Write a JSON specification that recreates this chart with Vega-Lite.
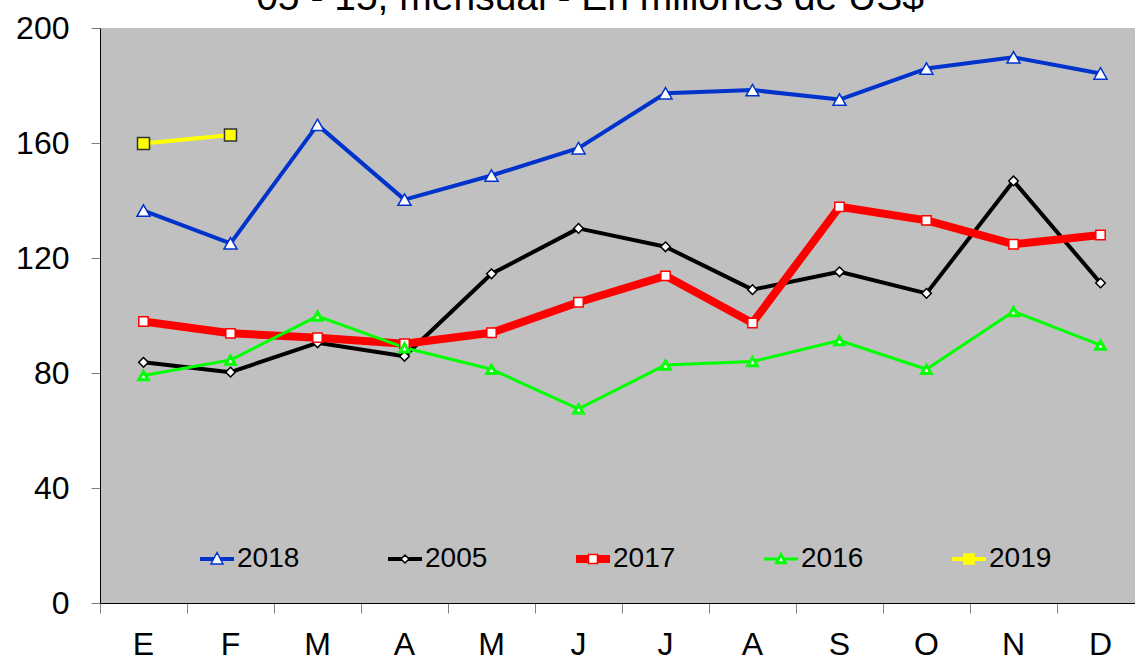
{
  "$schema": "https://vega.github.io/schema/vega-lite/v6.json",
  "width": 1044,
  "height": 575,
  "autosize": {"type": "none"},
  "padding": {"left": 100, "top": 28, "right": -9, "bottom": 56},
  "background": "white",
  "config": {
    "font": "Liberation Sans",
    "view": {"fill": "#C0C0C0", "stroke": null}
  },
  "title": {
    "text": "05 - 15, mensual - En millones de US$",
    "font": "Liberation Sans",
    "fontSize": 39,
    "fontWeight": "normal",
    "color": "#000000",
    "anchor": "middle",
    "frame": "group",
    "baseline": "alphabetic",
    "dx": -32,
    "dy": 40,
    "offset": 3
  },
  "data": {
    "values": [
      {"mes": "Ene", "year": "2018", "v": 136.5},
      {"mes": "Feb", "year": "2018", "v": 125.1},
      {"mes": "Mar", "year": "2018", "v": 166.3},
      {"mes": "Abr", "year": "2018", "v": 140.3},
      {"mes": "May", "year": "2018", "v": 148.7},
      {"mes": "Jun", "year": "2018", "v": 158.2},
      {"mes": "Jul", "year": "2018", "v": 177.3},
      {"mes": "Ago", "year": "2018", "v": 178.4},
      {"mes": "Sep", "year": "2018", "v": 175.1},
      {"mes": "Oct", "year": "2018", "v": 185.9},
      {"mes": "Nov", "year": "2018", "v": 189.8},
      {"mes": "Dic", "year": "2018", "v": 184.2},
      {"mes": "Ene", "year": "2005", "v": 83.7},
      {"mes": "Feb", "year": "2005", "v": 80.3},
      {"mes": "Mar", "year": "2005", "v": 90.5},
      {"mes": "Abr", "year": "2005", "v": 85.8},
      {"mes": "May", "year": "2005", "v": 114.5},
      {"mes": "Jun", "year": "2005", "v": 130.3},
      {"mes": "Jul", "year": "2005", "v": 123.9},
      {"mes": "Ago", "year": "2005", "v": 109.0},
      {"mes": "Sep", "year": "2005", "v": 115.2},
      {"mes": "Oct", "year": "2005", "v": 107.7},
      {"mes": "Nov", "year": "2005", "v": 146.8},
      {"mes": "Dic", "year": "2005", "v": 111.3},
      {"mes": "Ene", "year": "2017", "v": 97.9},
      {"mes": "Feb", "year": "2017", "v": 93.8},
      {"mes": "Mar", "year": "2017", "v": 92.3},
      {"mes": "Abr", "year": "2017", "v": 90.2},
      {"mes": "May", "year": "2017", "v": 94.0},
      {"mes": "Jun", "year": "2017", "v": 104.6},
      {"mes": "Jul", "year": "2017", "v": 113.8},
      {"mes": "Ago", "year": "2017", "v": 97.4},
      {"mes": "Sep", "year": "2017", "v": 137.8},
      {"mes": "Oct", "year": "2017", "v": 133.1},
      {"mes": "Nov", "year": "2017", "v": 124.8},
      {"mes": "Dic", "year": "2017", "v": 128.0},
      {"mes": "Ene", "year": "2016", "v": 79.1},
      {"mes": "Feb", "year": "2016", "v": 84.5},
      {"mes": "Mar", "year": "2016", "v": 99.8},
      {"mes": "Abr", "year": "2016", "v": 88.8},
      {"mes": "May", "year": "2016", "v": 81.3},
      {"mes": "Jun", "year": "2016", "v": 67.5},
      {"mes": "Jul", "year": "2016", "v": 82.8},
      {"mes": "Ago", "year": "2016", "v": 84.0},
      {"mes": "Sep", "year": "2016", "v": 91.3},
      {"mes": "Oct", "year": "2016", "v": 81.3},
      {"mes": "Nov", "year": "2016", "v": 101.4},
      {"mes": "Dic", "year": "2016", "v": 89.7},
      {"mes": "Ene", "year": "2019", "v": 159.8},
      {"mes": "Feb", "year": "2019", "v": 162.8}
    ]
  },
  "encoding": {
    "x": {
      "field": "mes",
      "type": "ordinal",
      "bandPosition": 0.5,
      "sort": ["Ene", "Feb", "Mar", "Abr", "May", "Jun", "Jul", "Ago", "Sep", "Oct", "Nov", "Dic"],
      "scale": {"type": "band", "paddingInner": 0, "paddingOuter": 0},
      "axis": {
        "title": null,
        "bandPosition": 0,
        "labelOffset": 0,
        "labelExpr": "upper(substring(datum.label, 0, 1))",
        "labelAngle": 0,
        "labelFont": "Liberation Sans",
        "labelFontSize": 32,
        "labelColor": "#000000",
        "labelPadding": 16,
        "tickSize": 10,
        "tickColor": "#808080",
        "tickWidth": 1,
        "domainColor": "#000000",
        "domainWidth": 1,
        "grid": false
      }
    },
    "y": {
      "field": "v",
      "type": "quantitative",
      "scale": {"domain": [0, 200], "nice": false},
      "axis": {
        "title": null,
        "values": [0, 40, 80, 120, 160, 200],
        "labelFont": "Liberation Sans",
        "labelFontSize": 32,
        "labelColor": "#000000",
        "labelPadding": 22,
        "tickSize": 9,
        "tickColor": "#808080",
        "tickWidth": 1,
        "domainColor": "#000000",
        "domainWidth": 1,
        "grid": false
      }
    }
  },
  "layer": [
    {
      "transform": [{"filter": {"field": "year", "oneOf": ["2018", "2005", "2019"]}}],
      "mark": {"type": "line", "strokeWidth": 4, "strokeJoin": "round", "strokeCap": "round"},
      "encoding": {
        "color": {
          "field": "year",
          "type": "nominal",
          "scale": {"domain": ["2018", "2005", "2017", "2016", "2019"], "range": ["#0033CC", "#000000", "#FF0000", "#00FF00", "#FFFF00"]},
          "legend": null
        }
      }
    },
    {
      "transform": [{"filter": {"field": "year", "equal": "2017"}}],
      "mark": {"type": "line", "strokeWidth": 8, "strokeJoin": "round", "strokeCap": "round"},
      "encoding": {
        "color": {"field": "year", "type": "nominal", "legend": null}
      }
    },
    {
      "transform": [{"filter": {"field": "year", "equal": "2016"}}],
      "mark": {"type": "line", "strokeWidth": 3, "strokeJoin": "round", "strokeCap": "round"},
      "encoding": {
        "color": {"field": "year", "type": "nominal", "legend": null}
      }
    },
    {
      "mark": {"type": "point", "filled": true, "opacity": 1, "size": 400, "strokeWidth": 1.5},
      "encoding": {
        "shape": {
          "field": "year",
          "type": "nominal",
          "scale": {
            "domain": ["2018", "2005", "2017", "2016", "2019"],
            "range": [
              "M0,-0.57L0.65,0.57L-0.65,0.57Z",
              "M0,-0.48L0.48,0L0,0.48L-0.48,0Z",
              "M-0.47,-0.47H0.47V0.47H-0.47Z",
              "M0,-0.55L0.6,0.5L-0.6,0.5ZM0,-0.235L0.33,0.343L-0.33,0.343Z",
              "M-0.6,-0.6H0.6V0.6H-0.6Z"
            ]
          },
          "legend": null
        },
        "fill": {
          "field": "year",
          "type": "nominal",
          "scale": {"domain": ["2018", "2005", "2017", "2016", "2019"], "range": ["#FFFFFF", "#FFFFFF", "#FFFFFF", "#FFFFFF", "#FFFF00"]},
          "legend": null
        },
        "stroke": {
          "field": "year",
          "type": "nominal",
          "scale": {"domain": ["2018", "2005", "2017", "2016", "2019"], "range": ["#0033CC", "#000000", "#FF0000", "#00FF00", "#333333"]},
          "legend": null
        }
      }
    },
    {
      "transform": [{"filter": "datum.v < 0"}],
      "mark": {"type": "point", "filled": true, "opacity": 1, "size": 1156, "strokeWidth": 1.5},
      "encoding": {
        "shape": {
          "field": "year",
          "type": "nominal",
          "scale": {
            "domain": ["2018", "2005", "2017", "2016", "2019"],
            "range": [
              "M-1,-0.0735H-0.206M0.206,-0.0735H1M-1,0H-0.206M0.206,0H1M-1,0.0735H-0.206M0.206,0.0735H1M0,-0.382L0.353,0.294L-0.353,0.294Z",
              "M-1,-0.0735H-0.22M0.22,-0.0735H1M-1,0H-0.22M0.22,0H1M-1,0.0735H-0.22M0.22,0.0735H1M0,-0.235L0.235,0L0,0.235L-0.235,0Z",
              "M-1,-0.191H-0.235M0.235,-0.191H1M-1,-0.128H-0.235M0.235,-0.128H1M-1,-0.064H-0.235M0.235,-0.064H1M-1,0H-0.235M0.235,0H1M-1,0.064H-0.235M0.235,0.064H1M-1,0.128H-0.235M0.235,0.128H1M-1,0.191H-0.235M0.235,0.191H1M-0.265,-0.265H0.265V0.265H-0.265Z",
              "M-1,-0.044H-0.206M0.206,-0.044H1M-1,0.044H-0.206M0.206,0.044H1M0,-0.353L0.324,0.265L-0.324,0.265ZM0,-0.188L0.194,0.182L-0.194,0.182Z",
              "M-1,-0.0735H-0.265M0.265,-0.0735H1M-1,0H-0.265M0.265,0H1M-1,0.0735H-0.265M0.265,0.0735H1M-0.294,-0.294H0.294V0.294H-0.294Z"
            ]
          },
          "legend": {
            "orient": "none", "legendX": 99, "legendY": 513, "direction": "horizontal", "title": null,
            "labelFont": "Liberation Sans", "labelFontSize": 28, "labelColor": "#000000", "labelOffset": 2,
            "columnPadding": 85, "padding": 0, "symbolOpacity": 1, "symbolStrokeWidth": 1.5, "symbolSize": 1156
          }
        },
        "fill": {
          "field": "year",
          "type": "nominal",
          "scale": {"domain": ["2018", "2005", "2017", "2016", "2019"], "range": ["#FFFFFF", "#FFFFFF", "#FFFFFF", "#FFFFFF", "#FFFF00"]},
          "legend": {
            "orient": "none", "legendX": 99, "legendY": 513, "direction": "horizontal", "title": null,
            "labelFont": "Liberation Sans", "labelFontSize": 28, "labelColor": "#000000", "labelOffset": 2,
            "columnPadding": 85, "padding": 0, "symbolOpacity": 1, "symbolStrokeWidth": 1.5, "symbolSize": 1156
          }
        },
        "stroke": {
          "field": "year",
          "type": "nominal",
          "scale": {"domain": ["2018", "2005", "2017", "2016", "2019"], "range": ["#0033CC", "#000000", "#FF0000", "#00FF00", "#FFFF00"]},
          "legend": {
            "orient": "none", "legendX": 99, "legendY": 513, "direction": "horizontal", "title": null,
            "labelFont": "Liberation Sans", "labelFontSize": 28, "labelColor": "#000000", "labelOffset": 2,
            "columnPadding": 85, "padding": 0, "symbolOpacity": 1, "symbolStrokeWidth": 1.5, "symbolSize": 1156
          }
        }
      }
    }
  ],
  "resolve": {"scale": {"shape": "independent", "fill": "independent", "stroke": "independent"}}
}
